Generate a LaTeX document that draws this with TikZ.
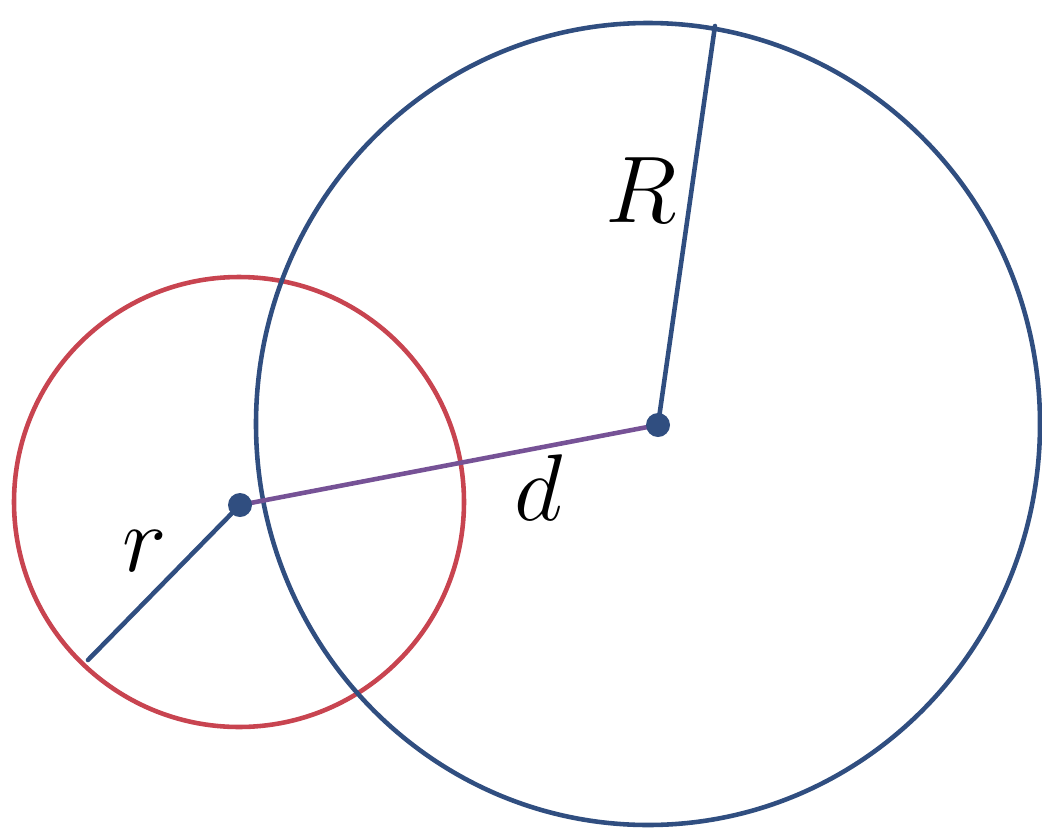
\documentclass[tikz,border=0pt]{standalone}
\usepackage{amsmath,amssymb}
\usepackage{xcolor}
\definecolor{bigblue}{RGB}{48,78,128}
\definecolor{smallred}{RGB}{200,68,80}
\definecolor{dlink}{RGB}{118,82,150}
\begin{document}
\begin{tikzpicture}[x=0.02cm,y=-0.02cm,line width=2.6pt,line cap=round,
  lbl/.style={font=\huge,scale=2.6}]
\useasboundingbox (0,0) rectangle (1042,829);
\coordinate (O) at (658,425);
\coordinate (o) at (240,505);
\coordinate (Rtop) at (715,26);
\coordinate (rend) at (88,660);
\draw[smallred] (239,502) circle (225);
\draw[bigblue] (648,424) ellipse (392 and 401);
\draw[bigblue] (O) -- (Rtop);
\draw[bigblue] (o) -- (rend);
\draw[dlink] (o) -- (O);
\fill[bigblue] (O) circle (12);
\fill[bigblue] (o) circle (12);
\node[lbl] (Rl) at (641,190) {$R$};
\node[lbl] (dl) at (539,488) {$d$};
\node[lbl] (rl) at (145,551) {$r$};
\end{tikzpicture}
\end{document}
